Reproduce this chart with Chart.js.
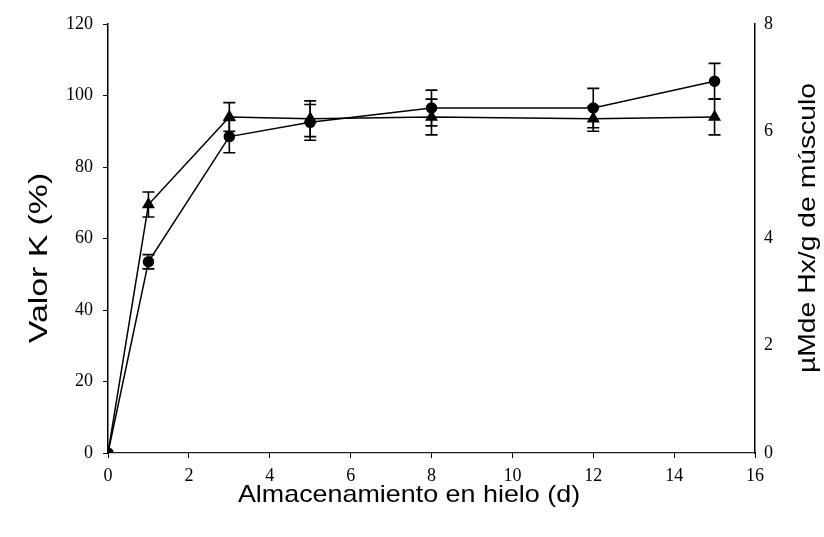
<!DOCTYPE html>
<html>
<head>
<meta charset="utf-8">
<script src="https://cdn.jsdelivr.net/npm/chart.js@4.4.1/dist/chart.umd.min.js"></script>
<style>
  html, body { margin: 0; padding: 0; background: #fff; }
  #wrap { width: 824px; height: 537px; position: relative; }
</style>
</head>
<body>
<div id="wrap"><canvas id="c" width="824" height="537"></canvas></div>
<script>
// Storage days on ice
const days = [0, 1, 3, 5, 8, 12, 15];
// K value (%) – triangle series and its standard deviation
const kValue = [0, 69.5, 94, 93.5, 94, 93.5, 94];
const kError = [0, 3.5, 4, 5, 5, 3.5, 5];
// Hx content (µM/g muscle) – circle series, plotted on the left % scale (8 µM ↔ 120 %)
const hxValue = [0, 53.5, 88.5, 92.5, 96.5, 96.5, 104];
const hxError = [0, 2, 4.5, 5, 5, 5.5, 5];

const xTicks = [0, 2, 4, 6, 8, 10, 12, 14, 16];
const leftTicks = [0, 20, 40, 60, 80, 100, 120];
const rightTicks = [0, 2, 4, 6, 8];

const xTitle = 'Almacenamiento en hielo (d)';
const leftTitle = 'Valor K (%)';
const rightTitle = 'µMde Hx/g de músculo';

const tickFont = { family: 'Liberation Serif', size: 18 };
const titleFamily = '"Liberation Sans", Arial, sans-serif';

// vertical error bars with caps, drawn through the dataset's scales
const errorBars = {
  id: 'errorBars',
  afterDatasetsDraw(chart) {
    const ctx = chart.ctx;
    chart.data.datasets.forEach((ds, i) => {
      const meta = chart.getDatasetMeta(i);
      const xs = chart.scales[meta.xAxisID];
      const ys = chart.scales[meta.yAxisID];
      ds.data.forEach((p, j) => {
        const e = ds.errors[j];
        if (!e) return;
        const x = xs.getPixelForValue(p.x);
        const yTop = ys.getPixelForValue(p.y + e);
        const yBot = ys.getPixelForValue(p.y - e);
        ctx.save();
        ctx.strokeStyle = '#000';
        ctx.lineWidth = 1.6;
        ctx.beginPath();
        ctx.moveTo(x, yTop); ctx.lineTo(x, yBot);
        ctx.moveTo(x - 6, yTop); ctx.lineTo(x + 6, yTop);
        ctx.moveTo(x - 6, yBot); ctx.lineTo(x + 6, yBot);
        ctx.stroke();
        ctx.restore();
      });
    });
  }
};

// axis titles; the lettering is slightly stretched along its run
function stretchedText(ctx, text, size, x, y, angle, stretch) {
  ctx.save();
  ctx.font = size + 'px ' + titleFamily;
  ctx.translate(x, y);
  ctx.rotate(angle);
  ctx.scale(stretch, 1);
  ctx.fillText(text, 0, 0);
  ctx.restore();
}

const axisTitles = {
  id: 'axisTitles',
  afterDraw(chart) {
    const ctx = chart.ctx;
    const a = chart.chartArea;
    ctx.save();
    ctx.fillStyle = '#000';
    ctx.textAlign = 'center';
    ctx.textBaseline = 'middle';
    stretchedText(ctx, xTitle, 24, 409, a.bottom + 42, 0, 1.12);
    stretchedText(ctx, leftTitle, 26, 40, 258, -Math.PI / 2, 1.3);
    stretchedText(ctx, rightTitle, 24, 808, 228, -Math.PI / 2, 1.18);
    ctx.restore();
  }
};

const chart = new Chart(document.getElementById('c'), {
  type: 'scatter',
  data: {
    datasets: [
      {
        label: leftTitle,
        data: days.map((d, i) => ({ x: d, y: kValue[i] })),
        errors: kError,
        showLine: true,
        borderColor: '#000',
        backgroundColor: '#000',
        borderWidth: 1.5,
        pointStyle: 'triangle',
        pointRadius: 6,
        pointHoverRadius: 6,
        yAxisID: 'y'
      },
      {
        label: rightTitle,
        data: days.map((d, i) => ({ x: d, y: hxValue[i] })),
        errors: hxError,
        showLine: true,
        borderColor: '#000',
        backgroundColor: '#000',
        borderWidth: 1.5,
        pointStyle: 'circle',
        pointRadius: 5,
        pointHoverRadius: 5,
        yAxisID: 'y'
      }
    ]
  },
  options: {
    responsive: false,
    animation: false,
    events: [],
    layout: { padding: { top: 24, left: 0, right: 0, bottom: 0 } },
    plugins: { legend: { display: false }, tooltip: { enabled: false } },
    scales: {
      x: {
        type: 'linear',
        position: 'bottom',
        min: 0, max: 16,
        afterBuildTicks: s => { s.ticks = xTicks.map(v => ({ value: v })); },
        afterFit: s => { s.height = 84; },
        grid: { drawOnChartArea: false, drawTicks: true, tickLength: 5, color: '#000', lineWidth: 1 },
        border: { display: true, color: '#222', width: 1.2, dash: [5, 1] },
        ticks: { color: '#000', font: tickFont, padding: 7, maxRotation: 0 }
      },
      y: {
        type: 'linear',
        position: 'left',
        min: 0, max: 120,
        afterBuildTicks: s => { s.ticks = leftTicks.map(v => ({ value: v })); },
        afterFit: s => { s.width = 108; },
        grid: { drawOnChartArea: false, drawTicks: true, tickLength: 5, color: '#000', lineWidth: 1 },
        border: { display: true, color: '#000', width: 1.5 },
        ticks: { color: '#000', font: tickFont, padding: 10 }
      },
      y2: {
        type: 'linear',
        position: 'right',
        min: 0, max: 8,
        afterBuildTicks: s => { s.ticks = rightTicks.map(v => ({ value: v })); },
        afterFit: s => { s.width = 69; },
        grid: { drawOnChartArea: false, drawTicks: false },
        border: { display: true, color: '#000', width: 1.5 },
        ticks: { color: '#000', font: tickFont, padding: 9 }
      }
    }
  },
  plugins: [errorBars, axisTitles]
});
</script>
</body>
</html>
